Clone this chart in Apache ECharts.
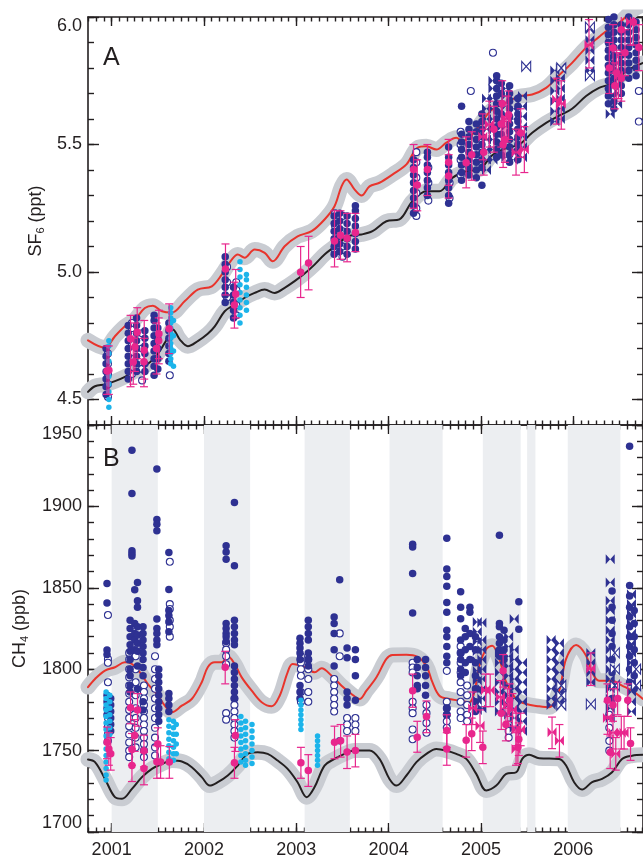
<!DOCTYPE html>
<html><head><meta charset="utf-8">
<script src="https://cdn.jsdelivr.net/npm/echarts@6/dist/echarts.min.js"></script>
<style>html,body{margin:0;padding:0;background:#fff}#c{width:643px;height:859px}</style>
</head><body><div id="c"></div>
<script>
// ---------- Tick values ----------
const yearTicks = [2001, 2002, 2003, 2004, 2005, 2006];
const sf6MajorTicks = [4.5, 5.0, 5.5, 6.0];
const sf6MinorTicks = [4.4,4.5,4.6,4.7,4.8,4.9,5.0,5.1,5.2,5.3,5.4,5.5,5.6,5.7,5.8,5.9,6.0];
const ch4MajorTicks = [1700, 1750, 1800, 1850, 1900, 1950];
const ch4MinorTicks = [1700,1710,1720,1730,1740,1750,1760,1770,1780,1790,1800,1810,1820,1830,1840,1850,1860,1870,1880,1890,1900,1910,1920,1930,1940,1950];

// ---------- Panel A: SF6 model curves [year, ppt] ----------
const sf6RedLine = [[2000.744,4.732],[2000.928,4.703],[2001.036,4.748],[2001.144,4.787],[2001.252,4.814],[2001.36,4.859],[2001.447,4.868],[2001.544,4.846],[2001.652,4.841],[2001.793,4.886],[2001.933,4.931],[2002.085,4.944],[2002.193,4.99],[2002.301,5.049],[2002.366,5.069],[2002.441,5.056],[2002.549,5.088],[2002.658,5.075],[2002.744,5.042],[2002.874,5.101],[2003.014,5.14],[2003.166,5.16],[2003.306,5.206],[2003.414,5.258],[2003.49,5.336],[2003.544,5.363],[2003.63,5.324],[2003.706,5.3],[2003.793,5.336],[2003.901,5.35],[2004.041,5.382],[2004.193,5.422],[2004.312,5.487],[2004.409,5.493],[2004.517,5.48],[2004.625,5.507],[2004.733,5.526],[2004.798,5.513],[2004.906,5.539],[2005.014,5.591],[2005.122,5.637],[2005.274,5.664],[2005.414,5.689],[2005.555,5.696],[2005.706,5.722],[2005.847,5.772],[2005.987,5.82],[2006.139,5.88],[2006.279,5.922],[2006.355,5.944],[2006.496,5.977],[2006.657,6.03],[2006.77,6.05]];
const sf6BlackLine = [[2000.744,4.53],[2000.82,4.552],[2000.928,4.559],[2001.036,4.572],[2001.144,4.589],[2001.252,4.611],[2001.36,4.631],[2001.468,4.664],[2001.576,4.722],[2001.663,4.775],[2001.739,4.735],[2001.825,4.709],[2001.933,4.729],[2002.041,4.758],[2002.117,4.787],[2002.225,4.846],[2002.333,4.873],[2002.441,4.899],[2002.549,4.918],[2002.658,4.931],[2002.766,4.918],[2002.874,4.938],[2002.982,4.964],[2003.09,4.994],[2003.198,5.029],[2003.306,5.069],[2003.447,5.108],[2003.555,5.14],[2003.706,5.147],[2003.825,5.16],[2003.976,5.199],[2004.117,5.206],[2004.258,5.278],[2004.409,5.317],[2004.55,5.317],[2004.69,5.369],[2004.841,5.395],[2004.982,5.402],[2005.122,5.458],[2005.274,5.485],[2005.414,5.5],[2005.555,5.546],[2005.706,5.585],[2005.847,5.613],[2005.987,5.64],[2006.139,5.69],[2006.279,5.722],[2006.42,5.74],[2006.571,5.787],[2006.755,5.82]];

// ---------- Panel A observations: [year, [values]] ----------
const sf6BlueFilled = [
 [2000.94,[4.52,4.55,4.58,4.61,4.64,4.67,4.70]],
 [2001.18,[4.58,4.61,4.64,4.67,4.70,4.73,4.76,4.79]],
 [2001.27,[4.61,4.64,4.67,4.70,4.73,4.76,4.79,4.82]],
 [2001.36,[4.61,4.64,4.68,4.71,4.74,4.77]],
 [2001.46,[4.595,4.63,4.66,4.69,4.72,4.75,4.78,4.81,4.83]],
 [2001.50,[4.62,4.66,4.70,4.74,4.78]],
 [2001.62,[4.65,4.68,4.71,4.74,4.77,4.80]],
 [2002.23,[4.88,4.91,4.94,4.97,5.00,5.03,5.06]],
 [2002.32,[4.82,4.85,4.88,4.91,4.94]],
 [2003.41,[5.07,5.10,5.13,5.16,5.19,5.22]],
 [2003.47,[5.08,5.11,5.14,5.17,5.20,5.23]],
 [2003.55,[5.07,5.10,5.13,5.16,5.19,5.22]],
 [2003.64,[5.09,5.12,5.15,5.18,5.21,5.24,5.26]],
 [2004.27,[5.23,5.26,5.29,5.32,5.35,5.38,5.41,5.44]],
 [2004.42,[5.30,5.33,5.36,5.39,5.42,5.45,5.47]],
 [2004.65,[5.27,5.30,5.33,5.36,5.39,5.42,5.45,5.49]],
 [2004.79,[5.36,5.39,5.42,5.45,5.48,5.51,5.54,5.65]],
 [2004.87,[5.38,5.41,5.44,5.47,5.50,5.53,5.56,5.59]],
 [2004.95,[5.37,5.40,5.43,5.46,5.49,5.52,5.55,5.58]],
 [2005.01,[5.34,5.41,5.44,5.47,5.50,5.53,5.56,5.59,5.62]],
 [2005.17,[5.45,5.48,5.51,5.54,5.57,5.60,5.63,5.66,5.69,5.72,5.75,5.77]],
 [2005.22,[5.46,5.50,5.54,5.58,5.62,5.66,5.70,5.74]],
 [2005.31,[5.43,5.46,5.49,5.52,5.55,5.58,5.61,5.64,5.67,5.70,5.73]],
 [2005.40,[5.44,5.47,5.50,5.53,5.56,5.59,5.62,5.65,5.68]],
 [2006.38,[5.66,5.69,5.72,5.75,5.78,5.81,5.84,5.87,5.90,5.93,5.96,5.99]],
 [2006.44,[5.64,5.67,5.70,5.73,5.76,5.79,5.82,5.85,5.88,5.91,5.94,5.97,6.0]],
 [2006.52,[5.70,5.73,5.76,5.79,5.82,5.85,5.88,5.91,5.94,5.97]],
 [2006.60,[5.76,5.79,5.82,5.85,5.88,5.91,5.94,5.97,6.0]],
 [2006.68,[5.77,5.80,5.83,5.86,5.89,5.92,5.95,5.98]]
];
const sf6BlueOpen = [
 [2000.96,[4.51,4.56,4.60,4.64,4.68]],
 [2001.22,[4.60,4.66,4.72,4.78,4.80]],
 [2001.33,[4.575,4.62,4.70,4.76]],
 [2001.63,[4.595]],
 [2002.25,[4.90,4.96,5.02]],
 [2002.35,[4.83,4.87,4.93,4.96]],
 [2003.42,[5.08,5.12,5.18,5.23]],
 [2003.50,[5.06,5.10,5.16,5.22]],
 [2004.30,[5.22,5.25,5.31,5.37,5.43,5.47]],
 [2004.43,[5.28,5.35,5.41]],
 [2004.66,[5.29,5.35]],
 [2004.78,[5.38,5.44,5.50,5.55]],
 [2004.89,[5.71]],
 [2005.13,[5.86]],
 [2006.71,[5.71,5.59]]
];
const sf6BlueBowtie = [
 [2005.06,[5.40,5.44,5.48,5.52,5.56,5.60,5.64,5.68]],
 [2005.13,[5.44,5.48,5.52,5.56,5.60,5.64,5.68,5.72,5.75]],
 [2005.27,[5.45,5.49,5.53,5.57,5.61,5.65,5.69,5.72]],
 [2005.35,[5.44,5.48,5.52,5.56,5.60,5.64,5.68]],
 [2005.45,[5.45,5.49,5.53,5.57,5.61,5.65,5.69]],
 [2005.80,[5.59,5.63,5.67,5.71,5.75,5.79]],
 [2005.86,[5.60,5.64,5.68,5.72,5.76,5.80]],
 [2006.18,[5.79,5.83,5.87,5.91,5.95]],
 [2006.40,[5.62,5.70,5.80,5.90]],
 [2006.48,[5.66,5.74,5.84]]
];
const sf6BlueBowtieOpen = [
 [2005.49,[5.806]],
 [2005.87,[5.80]],
 [2006.18,[5.96,5.77]],
 [2006.46,[5.71]]
];
const sf6Cyan = [
 [2000.97,[4.47,4.50,4.53,4.56,4.59,4.62,4.65,4.68,4.71,4.73]],
 [2001.64,[4.64,4.66,4.68,4.70,4.72,4.74,4.76,4.78,4.80,4.82,4.84,4.86]],
 [2001.67,[4.63,4.69,4.75,4.81]],
 [2002.39,[4.80,4.83,4.86,4.89,4.92,4.95,4.98,5.01,5.04]],
 [2002.46,[4.85,4.88,4.91,4.94,4.97,4.99]]
];
// magenta: [year, value, low, high]
const sf6Magenta = [
 [2000.95,4.612,4.52,4.71],[2000.97,4.615,4.52,4.71],
 [2001.205,4.738,4.55,4.83],[2001.234,4.647,4.56,4.74],[2001.252,4.706,4.61,4.80],[2001.277,4.764,4.66,4.86],[2001.353,4.693,4.58,4.81],[2001.35,4.648,4.55,4.74],
 [2001.486,4.70,4.60,4.80],[2001.512,4.758,4.66,4.85],[2001.51,4.73,4.64,4.82],[2001.623,4.777,4.68,4.875],
 [2002.233,5.012,4.91,5.11],[2002.344,4.914,4.82,5.01],[2002.33,4.871,4.78,4.96],
 [2003.047,4.999,4.90,5.10],[2003.133,5.035,4.93,5.14],
 [2003.414,5.122,5.02,5.24],[2003.479,5.144,5.05,5.24],[2003.55,5.132,5.04,5.23],[2003.64,5.155,5.08,5.23],
 [2004.27,5.402,5.25,5.50],[2004.31,5.341,5.24,5.44],[2004.42,5.402,5.30,5.50],
 [2004.65,5.43,5.34,5.52],[2004.65,5.376,5.29,5.46],[2004.84,5.428,5.33,5.53],[2004.90,5.46,5.36,5.55],
 [2005.03,5.47,5.38,5.56],[2005.14,5.56,5.47,5.65],[2005.22,5.58,5.49,5.67],[2005.30,5.617,5.52,5.71],
 [2005.23,5.66,5.57,5.75],[2005.26,5.52,5.43,5.61],[2005.43,5.545,5.45,5.64],[2005.24,5.50,5.41,5.59],
 [2006.39,5.80,5.70,5.90],[2006.43,5.878,5.78,5.97],[2006.52,5.95,5.86,6.04],[2006.47,5.78,5.68,5.87],
 [2006.56,5.86,5.77,5.95],[2006.65,5.98,5.89,6.07],[2006.71,5.88,5.79,5.97],[2006.45,5.73,5.64,5.82],[2006.52,5.76,5.67,5.85]
];
const sf6MagentaBowtie = [
 [2005.09,5.578,5.49,5.67],[2005.02,5.53,5.44,5.62],[2005.28,5.60,5.51,5.69],[2005.47,5.48,5.39,5.57],[2005.38,5.47,5.38,5.56],
 [2005.82,5.676,5.58,5.76],[2005.87,5.66,5.56,5.75],[2006.17,5.89,5.80,5.99],[2006.62,5.98,5.89,6.07],[2006.49,5.77,5.68,5.86]
];

// ---------- Panel B: CH4 model curves [year, ppb] ----------
const ch4RedLine = [[2000.744,1789],[2000.82,1794],[2000.928,1799.1],[2001.036,1801.2],[2001.144,1804.2],[2001.22,1803.2],[2001.306,1798.1],[2001.393,1790.9],[2001.49,1784.8],[2001.576,1777.6],[2001.652,1773.6],[2001.76,1777.6],[2001.868,1781.7],[2001.976,1792],[2002.041,1801.2],[2002.117,1804.2],[2002.193,1804.2],[2002.258,1807.9],[2002.333,1803.2],[2002.409,1795],[2002.517,1786.8],[2002.625,1779.7],[2002.733,1777.2],[2002.82,1783.7],[2002.906,1798.1],[2002.96,1803.2],[2003.09,1801.2],[2003.198,1798.1],[2003.274,1800.6],[2003.382,1796],[2003.49,1789.9],[2003.598,1784.8],[2003.685,1781.7],[2003.76,1786.8],[2003.868,1795],[2003.976,1806.3],[2004.041,1808.7],[2004.193,1808.8],[2004.312,1807.5],[2004.409,1802.1],[2004.474,1792],[2004.55,1783.7],[2004.658,1781.7],[2004.766,1780.7],[2004.874,1779.7],[2004.928,1785.8],[2004.982,1802.1],[2005.058,1812.4],[2005.122,1814.4],[2005.198,1806.3],[2005.274,1792],[2005.382,1781.7],[2005.49,1778.6],[2005.631,1777.2],[2005.739,1776.6],[2005.847,1786.8],[2005.922,1806.3],[2006.031,1814.8],[2006.139,1808.3],[2006.204,1798.1],[2006.279,1792.9],[2006.42,1792.9],[2006.528,1789.9],[2006.636,1786.8],[2006.755,1781.7]];
const ch4BlackLine = [[2000.744,1744.5],[2000.82,1742.9],[2000.928,1732.6],[2001.036,1721.4],[2001.112,1720.4],[2001.22,1726.5],[2001.328,1733.7],[2001.436,1738.8],[2001.544,1741.8],[2001.652,1743.9],[2001.76,1743.3],[2001.868,1739.8],[2001.976,1733.7],[2002.063,1728.5],[2002.15,1730.6],[2002.258,1734.7],[2002.366,1740.8],[2002.474,1748],[2002.582,1749],[2002.69,1748],[2002.798,1743.9],[2002.906,1738.8],[2003.014,1730.6],[2003.112,1721.4],[2003.198,1727.6],[2003.306,1740.8],[2003.414,1744.9],[2003.522,1748],[2003.63,1750],[2003.793,1750],[2003.901,1744.9],[2004.009,1732.6],[2004.085,1728.5],[2004.193,1734.7],[2004.301,1742.9],[2004.409,1748],[2004.517,1751],[2004.625,1750],[2004.733,1748],[2004.841,1744.9],[2004.949,1735.7],[2005.058,1725.5],[2005.166,1728.5],[2005.274,1735.7],[2005.382,1736.7],[2005.447,1744.9],[2005.522,1747.4],[2005.631,1745.3],[2005.847,1744.9],[2005.922,1740.8],[2006.009,1730.6],[2006.095,1726.1],[2006.204,1730.6],[2006.312,1732.6],[2006.42,1736.7],[2006.528,1744.9],[2006.636,1746.9],[2006.755,1747.4]];
// shaded sampling seasons [start, end]
const ch4Seasons = [[2001.0,2001.5],[2002.0,2002.5],[2003.09,2003.58],[2004.01,2004.585],[2005.02,2005.43],[2005.50,2005.59],[2005.94,2006.51]];

// ---------- Panel B observations ----------
const ch4BlueFilled = [
 [2000.95,[1852.7,1840.6,1811.8,1809,1784,1780,1776,1772]],
 [2000.99,[1782,1778,1774,1770,1766,1762]],
 [2001.20,[1830,1825,1820,1815,1811,1806,1800,1796,1790,1786]],
 [2001.22,[1934.5,1908,1872.7,1871,1869.6]],
 [2001.25,[1848.8,1828,1822,1818,1812]],
 [2001.28,[1853.3,1842,1838,1826,1821,1816,1811,1802,1788]],
 [2001.34,[1826,1822,1818,1814,1810,1806,1801,1796,1780,1775]],
 [2001.49,[1922.9,1892,1889,1885,1830.8,1825,1822,1818,1815]],
 [2001.51,[1800,1796,1792,1788,1784,1780,1776,1772,1768]],
 [2001.62,[1871.7,1849,1836,1833,1829,1823,1785,1782,1778,1774]],
 [2002.24,[1875.8,1872,1867.6,1828,1825,1822,1820,1817]],
 [2002.33,[1902.4,1863.5,1830,1826,1822,1818,1815,1802,1798,1794,1790,1786,1782]],
 [2003.04,[1819,1816,1813,1810,1806,1790,1786,1782]],
 [2003.13,[1830,1826,1822,1818,1810,1806,1802]],
 [2003.41,[1832,1828,1822,1812,1802]],
 [2003.47,[1855,1756]],
 [2003.55,[1813,1807,1786,1782,1778]],
 [2003.64,[1812,1806,1796,1781]],
 [2004.26,[1876.8,1875,1858.8,1834.5]],
 [2004.31,[1806,1801,1796,1790,1788]],
 [2004.40,[1806,1801,1796,1790,1784]],
 [2004.63,[1880.5,1861.5,1857,1851,1841,1835,1824,1820,1814,1808,1804,1776,1772]],
 [2004.78,[1847.6,1838,1831,1818,1810,1806,1800,1796]],
 [2004.83,[1825,1820,1812,1804,1798]],
 [2004.88,[1838,1835,1822,1814,1806]],
 [2004.94,[1820,1812,1804,1796,1788,1780,1774]],
 [2005.20,[1882.3,1828,1826,1820,1816,1812,1808]],
 [2005.25,[1824,1818,1812,1806]],
 [2005.41,[1841.4,1824.6]],
 [2006.42,[1848,1838,1830,1822,1814,1806,1798,1790,1782]],
 [2006.61,[1937,1851.4,1845,1838,1832,1826,1820,1814,1808,1800,1792]],
 [2006.66,[1836,1828,1820,1812,1804,1796,1788]]
];
const ch4BlueOpen = [
 [2000.96,[1833.3,1806.3,1804,1792,1776,1770,1765,1760,1756]],
 [2001.19,[1810,1806,1800,1795,1790,1785,1780,1775,1770,1765,1760,1755,1750,1746]],
 [2001.26,[1808,1800,1792,1784,1776,1770,1764,1758,1752]],
 [2001.35,[1790,1786,1782,1778,1774,1770,1766,1762,1758,1754,1750,1746]],
 [2001.47,[1808,1800,1794,1788,1782,1776,1770,1764,1758,1752,1747]],
 [2001.63,[1866,1840,1837,1830,1826,1820]],
 [2002.24,[1816,1812,1808,1803,1773,1769]],
 [2002.33,[1782,1778,1774,1770,1766,1762,1758]],
 [2003.05,[1808,1804,1800,1796,1786,1780]],
 [2003.13,[1806,1800,1794,1786,1780]],
 [2003.41,[1794,1790,1786,1782,1778,1774]],
 [2003.47,[1822,1808]],
 [2003.55,[1770,1766,1762]],
 [2003.64,[1770,1766,1762]],
 [2004.26,[1804,1801,1798,1780,1776,1773,1763,1757]],
 [2004.41,[1778,1773,1767,1761]],
 [2004.63,[1799,1780,1776,1772,1768,1764]],
 [2004.78,[1814,1810,1804,1798,1792,1786,1780,1774,1770]],
 [2004.85,[1790,1784,1778,1772,1768]],
 [2005.30,[1766,1762,1758]],
 [2006.39,[1780,1772,1764,1756,1750]]
];
const ch4BlueBowtie = [
 [2004.96,[1829,1823,1817,1811,1805,1799,1793,1787,1781,1775]],
 [2005.01,[1828.5,1818,1812,1806,1800,1794,1788,1782,1776]],
 [2005.20,[1810,1804,1798,1792,1786,1780,1774]],
 [2005.30,[1820,1814,1808,1802,1796,1790,1784,1778,1772]],
 [2005.36,[1830.8,1812,1806,1800,1794,1788,1782,1776,1770,1764]],
 [2005.45,[1804,1798,1792,1786,1780,1774,1768,1762]],
 [2005.76,[1818,1812,1806,1800,1794,1788,1782,1778]],
 [2005.85,[1816,1810,1804,1798,1792,1786,1780]],
 [2006.19,[1810,1804,1798,1792]],
 [2006.40,[1867.6,1853.3,1842,1836,1830,1824,1818,1812,1806,1800,1794,1788,1782,1776,1770]],
 [2006.63,[1846,1840,1834,1828,1822,1816,1810,1804,1798,1792,1786,1780,1774]]
];
const ch4BlueBowtieOpen = [
 [2006.19,[1778.6]],
 [2005.87,[1790,1784,1778]],
 [2006.45,[1810,1800,1790]],
 [2006.68,[1800,1790]]
];
const ch4Cyan = [
 [2000.94,[1786,1782,1778,1775,1771,1767,1763,1759,1755,1751,1747,1743,1739,1735,1732]],
 [2000.98,[1784,1780,1776,1772,1768,1764,1760]],
 [2001.62,[1769,1765,1761,1757,1753,1749,1745]],
 [2001.67,[1768,1764,1760,1756,1752,1748,1744]],
 [2001.70,[1766,1760,1754,1748]],
 [2002.40,[1771,1767,1763,1759,1755,1751,1747,1743]],
 [2002.45,[1768,1764,1760,1756,1752,1748,1744,1741]],
 [2002.52,[1766,1762,1758,1754,1750,1746,1742]],
 [2003.05,[1781,1778,1775,1772,1769,1766,1763]],
 [2003.23,[1759,1756,1753,1750,1747,1744,1741]]
];
const ch4Magenta = [
 [2000.95,1755.1,1745,1764.5],[2000.97,1751,1741,1761],[2000.99,1748,1738,1758],
 [2001.205,1776.3,1766.5,1786],[2001.25,1759.3,1749.5,1769],[2001.28,1775,1765,1785],[2001.22,1750.7,1741,1760.5],[2001.22,1740.9,1731,1751],
 [2001.35,1749.9,1740,1759.5],[2001.35,1739,1729,1749],[2001.50,1754,1744,1764],[2001.49,1743.2,1733,1753],[2001.53,1743,1733,1753],[2001.625,1743,1733,1752.5],
 [2002.23,1801.2,1791,1811],[2002.34,1759.3,1749.5,1769],[2002.33,1742.5,1733,1752],
 [2003.05,1742.5,1733,1752],[2003.13,1737.8,1728,1747.5],
 [2003.414,1755.1,1745,1765],[2003.48,1756,1746,1766],[2003.55,1749.2,1739,1759],[2003.64,1750,1740,1760],
 [2004.26,1786.8,1776.6,1797],[2004.31,1758.2,1749,1768],[2004.41,1770.9,1761,1780.5],[2004.63,1762.3,1752,1772],[2004.63,1751,1741,1761],
 [2004.84,1756.3,1746,1766],[2004.90,1760.4,1750,1770],[2005.02,1752,1742,1762],
 [2005.24,1799,1789,1809],[2005.22,1773,1763,1783],[2005.27,1766,1756,1776],[2005.31,1781,1771,1791],[2005.41,1757,1747,1767],[2005.40,1752,1742,1762],
 [2006.37,1781,1771,1791],[2006.43,1778,1768,1788],[2006.48,1782,1772,1792],[2006.59,1781,1771,1791],[2006.62,1754.3,1744,1764],[2006.40,1749,1739,1759]
];
const ch4MagentaBowtie = [
 [2004.99,1765.3,1755,1775],[2005.05,1787.3,1777,1797],[2005.10,1787,1777,1797],[2005.21,1783,1773,1793],[2005.29,1778,1768,1788],
 [2005.34,1775,1765,1785],[2005.38,1763,1753,1773],[2005.43,1763,1753,1773],[2005.38,1751,1741,1761],[2004.91,1776,1766,1786],
 [2005.77,1761.3,1751.2,1770.6],[2005.85,1756.1,1746,1766],[2006.19,1800.5,1790,1810],
 [2006.37,1770,1760,1780],[2006.46,1748,1738,1758],[2006.52,1761,1751,1771],[2006.55,1761,1751,1771],[2006.43,1761,1751,1771]
];

// ---------- Styling ----------
const INK = '#231f20', BLUE = '#2e3192', CYAN = '#1cb4ea', MAG = '#e8268d', RED = '#e8342c', BAND = '#c9ccd2', SHADE = '#eceef1';
const FONT = 'Liberation Sans';
const X_MIN = 2000.744, X_MAX = 2006.755;
const BOWTIE = 'path://M0,0L10,10L10,0L0,10Z';

const monthTicks = [];
for (let y = 2000; y <= 2006; y++) for (let m = 0; m < 12; m++) { const v = y + m / 12; if (v >= X_MIN && v <= X_MAX) monthTicks.push(v); }

const cols = arr => arr.flatMap(([x, vs]) => vs.map(v => [x, v]));

function xAxes(g) {
  const base = {gridIndex: g, type: 'value', min: X_MIN, max: X_MAX, splitLine: {show: false}, offset: 0};
  const line = {show: true, lineStyle: {color: INK, width: 1.6}};
  const tick = (vals, len) => ({show: true, inside: true, length: len, customValues: vals, lineStyle: {color: INK, width: 1.4}});
  return [
    Object.assign({}, base, {position: 'bottom', axisLine: line, axisTick: tick(yearTicks, 9),
      axisLabel: {show: g === 1, customValues: yearTicks, formatter: v => String(Math.round(v)), color: INK, fontSize: 18, fontFamily: FONT, margin: 9}}),
    Object.assign({}, base, {position: 'bottom', axisLine: {show: false}, axisTick: tick(monthTicks, 4.5), axisLabel: {show: false}}),
    Object.assign({}, base, {position: 'top', axisLine: line, axisTick: tick(yearTicks, 9), axisLabel: {show: false}}),
    Object.assign({}, base, {position: 'top', axisLine: {show: false}, axisTick: tick(monthTicks, 4.5), axisLabel: {show: false}})
  ];
}
function yAxes(g, min, max, major, minor, fmt, name, nameGap) {
  const base = {gridIndex: g, type: 'value', min, max, splitLine: {show: false}, offset: 0};
  const line = {show: true, lineStyle: {color: INK, width: 1.6}};
  const tick = (vals, len) => ({show: true, inside: true, length: len, customValues: vals, lineStyle: {color: INK, width: 1.4}});
  const lab = {show: true, customValues: major, formatter: fmt, color: INK, fontSize: 18, fontFamily: FONT, margin: 6,
    verticalAlignMaxLabel: 'top'};
  if (g === 1) lab.verticalAlignMinLabel = 'bottom';
  return [
    Object.assign({}, base, {position: 'left', axisLine: line, axisTick: tick(major, 11), axisLabel: lab,
      name, nameLocation: 'middle', nameGap, nameRotate: 90,
      nameTextStyle: {color: INK, fontFamily: FONT, rich: {
        a: {fontSize: 18, fontFamily: FONT, color: INK, lineHeight: 20},
        s: {fontSize: 11, fontFamily: FONT, color: INK, verticalAlign: 'bottom', lineHeight: 20}}}}),
    Object.assign({}, base, {position: 'left', axisLine: {show: false}, axisTick: tick(minor, 6), axisLabel: {show: false}}),
    Object.assign({}, base, {position: 'right', axisLine: line, axisTick: tick(major, 11), axisLabel: {show: false}}),
    Object.assign({}, base, {position: 'right', axisLine: {show: false}, axisTick: tick(minor, 6), axisLabel: {show: false}})
  ];
}

function errRender(params, api) {
  const x = api.value(0), lo = api.value(1), hi = api.value(2);
  const a = api.coord([x, lo]), b = api.coord([x, hi]);
  const w = 4, st = {stroke: MAG, lineWidth: 1.2};
  return {type: 'group', children: [
    {type: 'line', shape: {x1: a[0], y1: a[1], x2: b[0], y2: b[1]}, style: st},
    {type: 'line', shape: {x1: a[0] - w, y1: a[1], x2: a[0] + w, y2: a[1]}, style: st},
    {type: 'line', shape: {x1: b[0] - w, y1: b[1], x2: b[0] + w, y2: b[1]}, style: st}
  ]};
}

function panelSeries(g, red, black, filled, open, bow, bowOpen, cyan, mag, magBow) {
  const ax = {xAxisIndex: g * 4, yAxisIndex: g * 4};
  const s = [];
  const lineS = (data, color, width, z) => Object.assign({type: 'line', data, smooth: 0.35, showSymbol: false, symbol: 'none', silent: true, z,
    lineStyle: {color, width, cap: 'round', join: 'round', opacity: 1}}, ax);
  s.push(lineS(red, BAND, 15, 1), lineS(black, BAND, 15, 1), lineS(red, RED, 2, 2), lineS(black, INK, 2, 2));
  const sc = (data, symbol, size, style, z) => Object.assign({type: 'scatter', data, symbol, symbolSize: size,
    itemStyle: Object.assign({opacity: 1}, style), z, silent: true}, ax);
  s.push(sc(cols(open), 'circle', 7, {color: '#fff', borderColor: BLUE, borderWidth: 1.1}, 3));
  s.push(sc(cols(filled), 'circle', 7.5, {color: BLUE}, 3));
  s.push(sc(cols(bow), BOWTIE, [9, 10], {color: BLUE}, 3));
  s.push(sc(cols(bowOpen), BOWTIE, [9, 10], {color: '#fff', borderColor: BLUE, borderWidth: 1.1}, 3));
  s.push(sc(cols(cyan), 'circle', 5.5, {color: CYAN}, 3));
  const errData = mag.concat(magBow).map(r => [r[0], r[2], r[3]]);
  s.push(Object.assign({type: 'custom', renderItem: errRender, data: errData, clip: true, z: 4, silent: true, encode: {x: 0, y: [1, 2]}}, ax));
  s.push(sc(mag.map(r => [r[0], r[1]]), 'circle', 7.5, {color: MAG}, 5));
  s.push(sc(magBow.map(r => [r[0], r[1]]), BOWTIE, [9, 10], {color: MAG}, 5));
  return s;
}

const shadeSeries = {type: 'scatter', xAxisIndex: 4, yAxisIndex: 4, data: [], z: 0, silent: true,
  markArea: {silent: true, itemStyle: {color: SHADE}, data: ch4Seasons.map(([a, b]) => [{xAxis: a}, {xAxis: b}])}};

const option = {
  animation: false,
  backgroundColor: '#fff',
  grid: [
    {left: 88, top: 17, width: 556, height: 408},
    {left: 88, top: 425, width: 556, height: 408}
  ],
  xAxis: xAxes(0).concat(xAxes(1)),
  yAxis: yAxes(0, 4.4, 6.0, sf6MajorTicks, sf6MinorTicks, v => v.toFixed(1), '{a|SF}{s|6}{a| (ppt)}', 40)
    .concat(yAxes(1, 1700, 1950, ch4MajorTicks, ch4MinorTicks, v => String(v), '{a|CH}{s|4}{a| (ppb)}', 58)),
  graphic: [
    {type: 'text', z: 100, left: 103, top: 46, style: {text: 'A', fontSize: 25, fontFamily: FONT, fill: INK}},
    {type: 'text', z: 100, left: 103, top: 447, style: {text: 'B', fontSize: 25, fontFamily: FONT, fill: INK}}
  ],
  series: [shadeSeries]
    .concat(panelSeries(0, sf6RedLine, sf6BlackLine, sf6BlueFilled, sf6BlueOpen, sf6BlueBowtie, sf6BlueBowtieOpen, sf6Cyan, sf6Magenta, sf6MagentaBowtie))
    .concat(panelSeries(1, ch4RedLine, ch4BlackLine, ch4BlueFilled, ch4BlueOpen, ch4BlueBowtie, ch4BlueBowtieOpen, ch4Cyan, ch4Magenta, ch4MagentaBowtie))
};
const chart = echarts.init(document.getElementById('c'), null, {renderer: 'canvas'});
chart.setOption(option);
</script>
</body></html>
